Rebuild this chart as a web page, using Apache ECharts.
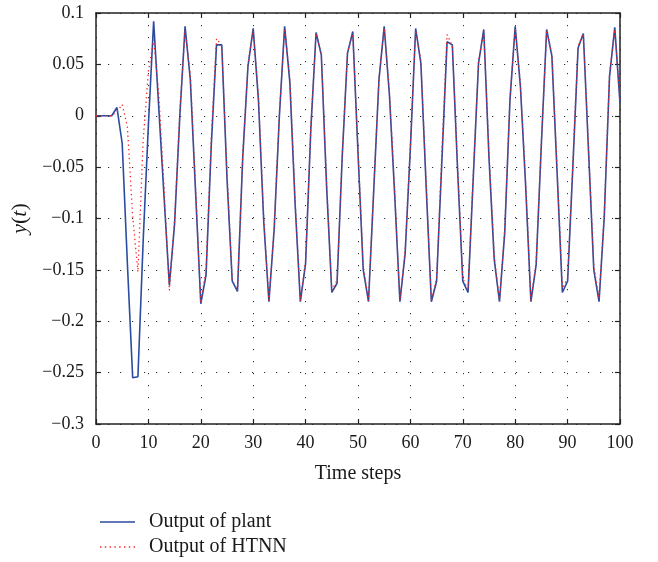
<!DOCTYPE html>
<html>
<head>
<meta charset="utf-8">
<script src="https://cdn.jsdelivr.net/npm/echarts@6/dist/echarts.min.js"></script>
<style>
html,body{margin:0;padding:0;background:#fff;}
#chart{width:658px;height:562px;}
</style>
</head>
<body>
<div id="chart"></div>
<script>
// Output of plant, time steps 0..100
var plantOutput = [
  0, 0, 0, 0, 0.008, -0.027, -0.145, -0.255, -0.254, -0.122,
  -0.009, 0.092, 0.006, -0.080, -0.165, -0.105, 0.000, 0.087, 0.035, -0.074,
  -0.183, -0.155, -0.029, 0.069, 0.069, -0.061, -0.161, -0.171, -0.041, 0.048,
  0.085, 0.015, -0.102, -0.181, -0.111, 0.000, 0.087, 0.032, -0.086, -0.181,
  -0.144, -0.013, 0.081, 0.059, -0.068, -0.172, -0.163, -0.039, 0.061, 0.082,
  -0.036, -0.150, -0.181, -0.073, 0.035, 0.087, 0.020, -0.077, -0.181, -0.134,
  -0.031, 0.085, 0.051, -0.068, -0.181, -0.161, -0.045, 0.072, 0.069, -0.052,
  -0.161, -0.172, -0.060, 0.051, 0.084, -0.041, -0.140, -0.181, -0.114, 0.015,
  0.087, 0.028, -0.069, -0.181, -0.145, -0.027, 0.084, 0.058, -0.056, -0.172,
  -0.161, -0.050, 0.066, 0.080, -0.035, -0.150, -0.181, -0.098, 0.038, 0.086,
  0.012
];
// Output of HTNN, time steps 0..100
var htnnOutput = [
  0, 0, 0, 0, 0.004, 0.011, -0.011, -0.098, -0.152, -0.024,
  0.043, 0.074, 0.020, -0.072, -0.170, -0.100, 0.005, 0.083, 0.040, -0.070,
  -0.182, -0.150, -0.020, 0.075, 0.068, -0.055, -0.160, -0.170, -0.038, 0.050,
  0.083, 0.020, -0.098, -0.180, -0.108, 0.003, 0.085, 0.036, -0.082, -0.180,
  -0.140, -0.010, 0.080, 0.060, -0.064, -0.170, -0.160, -0.035, 0.062, 0.080,
  -0.032, -0.146, -0.180, -0.070, 0.037, 0.085, 0.024, -0.073, -0.180, -0.130,
  -0.028, 0.083, 0.054, -0.064, -0.180, -0.158, -0.035, 0.079, 0.068, -0.048,
  -0.158, -0.170, -0.056, 0.053, 0.082, -0.037, -0.136, -0.180, -0.110, 0.018,
  0.085, 0.031, -0.065, -0.180, -0.142, -0.024, 0.082, 0.060, -0.052, -0.168,
  -0.158, -0.046, 0.068, 0.080, -0.031, -0.146, -0.178, -0.094, 0.041, 0.084,
  0.015
];
var seriesNames = ['Output of plant', 'Output of HTNN'];
var xTickValues = [0, 10, 20, 30, 40, 50, 60, 70, 80, 90, 100];
var yTickLabels = ['0.1', '0.05', '0', '−0.05', '−0.1', '−0.15', '−0.2', '−0.25', '−0.3'];

var FONT = 'Liberation Serif';
var TXT = '#1a1a1a';
var chart = echarts.init(document.getElementById('chart'));
function fmt(v){
  var s = String(Math.round(v*1000)/1000);
  return s.replace('-', '−');
}
var frameLine = {show:true, onZero:false, lineStyle:{color:'#222', width:1.5}};
var gridDots = {show:true, lineStyle:{color:'#333', width:1, type:[1.2, 10.8]}};
var tickStyle = {show:true, inside:true, length:5, lineStyle:{color:'#222', width:1.2}};
var option = {
  animation:false,
  backgroundColor:'#fff',
  grid:{left:96, right:38, top:13, bottom:138},
  legend:{
    orient:'vertical', left:100, top:512, padding:0, itemWidth:35, itemHeight:14, itemGap:5,
    textStyle:{fontFamily:FONT, fontSize:20, color:TXT, padding:[0,0,0,9]},
    data:[
      {name:seriesNames[0], icon:'path://M0,6 L35,6 L35,7.5 L0,7.5 Z', itemStyle:{color:'#2b4c9e'}},
      {name:seriesNames[1], icon:'path://M0,6 L1.3,6 L1.3,7.3 L0,7.3 Z M4.5,6 L5.8,6 L5.8,7.3 L4.5,7.3 Z M9,6 L10.3,6 L10.3,7.3 L9,7.3 Z M13.5,6 L14.8,6 L14.8,7.3 L13.5,7.3 Z M18,6 L19.3,6 L19.3,7.3 L18,7.3 Z M22.5,6 L23.8,6 L23.8,7.3 L22.5,7.3 Z M27,6 L28.3,6 L28.3,7.3 L27,7.3 Z M31.5,6 L32.8,6 L32.8,7.3 L31.5,7.3 Z', itemStyle:{color:'#ff2020'}}
    ]
  },
  xAxis:[{
    type:'value', min:0, max:100, interval:10, position:'bottom',
    name:'Time steps', nameLocation:'middle', nameGap:40,
    nameTextStyle:{fontFamily:FONT, fontSize:20, color:TXT},
    axisLine:frameLine, axisTick:tickStyle,
    axisLabel:{fontFamily:FONT, fontSize:18, color:TXT, margin:10,
      formatter:function(v){ return xTickValues.indexOf(v) >= 0 ? String(v) : ''; }},
    splitLine:gridDots
  },{
    type:'value', min:0, max:100, interval:10, position:'top',
    axisLine:frameLine, axisTick:tickStyle,
    axisLabel:{show:false}, splitLine:{show:false}
  }],
  yAxis:[{
    type:'value', min:-0.3, max:0.1, interval:0.05, position:'left',
    name:'{i|y}({i|t})', nameLocation:'middle', nameGap:53, nameRotate:90,
    nameTextStyle:{fontFamily:FONT, fontSize:22, color:TXT,
      rich:{i:{fontFamily:FONT, fontStyle:'italic', fontSize:22, color:TXT}}},
    axisLine:frameLine, axisTick:tickStyle,
    axisLabel:{fontFamily:FONT, fontSize:18, color:TXT, margin:12,
      formatter:function(v){ var s = fmt(v); return yTickLabels.indexOf(s) >= 0 ? s : ''; }},
    splitLine:gridDots
  },{
    type:'value', min:-0.3, max:0.1, interval:0.05, position:'right',
    axisLine:frameLine, axisTick:tickStyle,
    axisLabel:{show:false}, splitLine:{show:false}
  }],
  series:[{
    name:seriesNames[0], type:'line', xAxisIndex:0, yAxisIndex:0,
    symbol:'none', smooth:false,
    lineStyle:{color:'#2b4c9e', width:1.6},
    itemStyle:{color:'#2b4c9e'},
    data:plantOutput.map(function(v,i){ return [i, v]; })
  },{
    name:seriesNames[1], type:'line', xAxisIndex:0, yAxisIndex:0,
    symbol:'none', smooth:false,
    lineStyle:{color:'#ff2020', width:1.3, type:[1.3, 3.2]},
    itemStyle:{color:'#ff2020'},
    data:htnnOutput.map(function(v,i){ return [i, v]; })
  }]
};
chart.setOption(option);
</script>
</body>
</html>
